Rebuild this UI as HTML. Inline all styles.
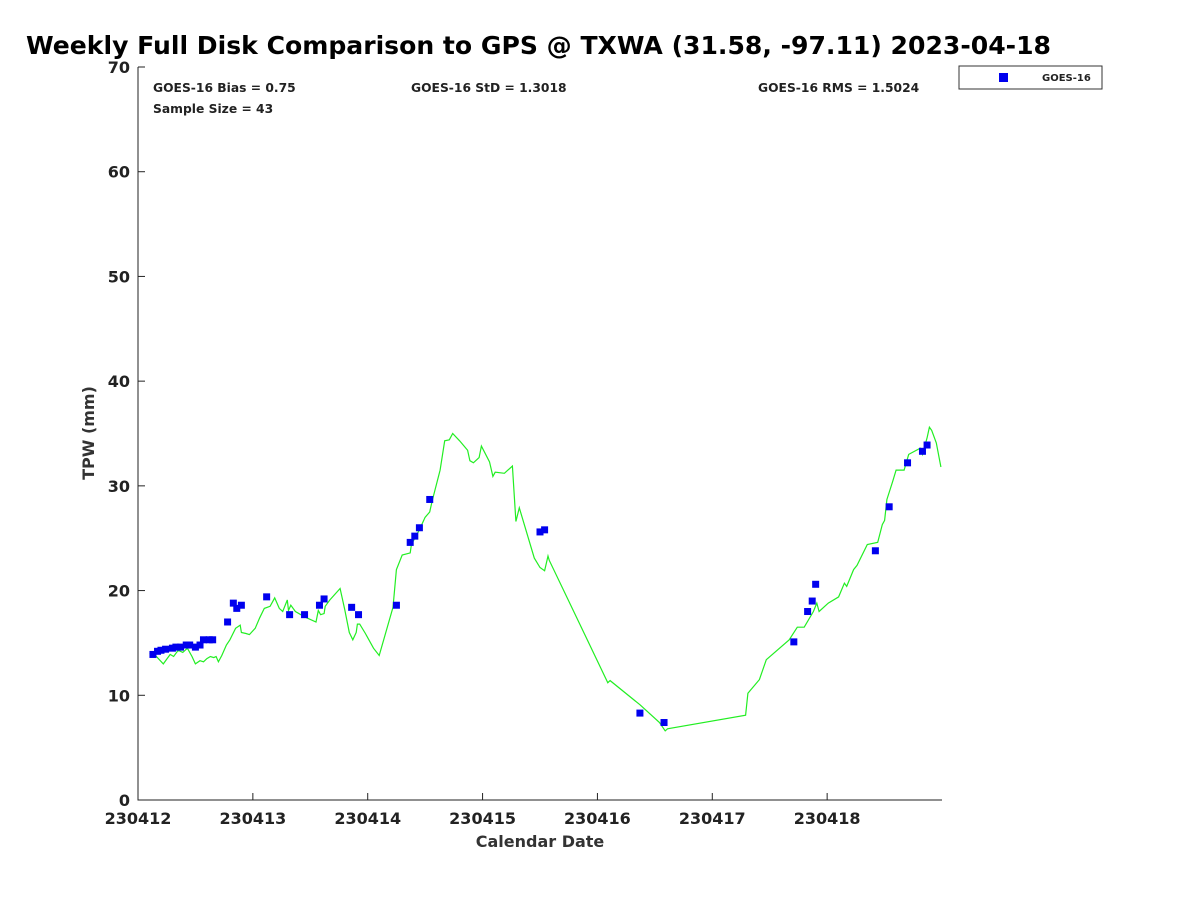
<!DOCTYPE html>
<html><head><meta charset="utf-8"><style>
html,body{margin:0;padding:0;background:#fff;}
svg{display:block;font-family:"DejaVu Sans","Liberation Sans",sans-serif;font-weight:bold;}
</style></head><body>
<svg id="chart" width="1200" height="900" xmlns="http://www.w3.org/2000/svg">
<text x="26" y="54" font-size="25" textLength="1025" lengthAdjust="spacingAndGlyphs" fill="#000">Weekly Full Disk Comparison to GPS @ TXWA (31.58, -97.11) 2023-04-18</text>
<g id="axes"></g>
<text x="153" y="92" font-size="12.3" fill="#222">GOES-16 Bias = 0.75</text>
<text x="153" y="113" font-size="12.3" fill="#222">Sample Size = 43</text>
<text x="411" y="92" font-size="12.3" fill="#222">GOES-16 StD = 1.3018</text>
<text x="758" y="92" font-size="12.3" fill="#222">GOES-16 RMS = 1.5024</text>
<g>
<rect x="959" y="66" width="143" height="23" fill="#fff" stroke="#333" stroke-width="1"/>
<rect x="999" y="73" width="9" height="9" fill="#0000ee"/>
<text x="1042" y="81" font-size="10" fill="#222">GOES-16</text>
</g>
<text x="540" y="847" font-size="16" fill="#333" text-anchor="middle">Calendar Date</text>
<text transform="translate(94,433) rotate(-90)" font-size="16" fill="#333" text-anchor="middle">TPW (mm)</text>
</svg>
<script>
const xTickLabels=["230412","230413","230414","230415","230416","230417","230418"];
const yTickLabels=[0,10,20,30,40,50,60,70];
const lineDays=[.10,.16,.22,.28,.31,.35,.39,.43,.47,.50,.54,.57,.60,.63,.66,.68,.70,.73,.77,.80,.85,.89,.90,.94,.97,1.02,1.06,1.10,1.15,1.19,1.23,1.26,1.30,1.31,1.33,1.37,1.45,1.55,1.57,1.59,1.62,1.63,1.67,1.76,1.80,1.84,1.87,1.90,1.91,1.93,1.98,2.05,2.10,2.22,2.25,2.30,2.37,2.38,2.45,2.50,2.54,2.56,2.63,2.67,2.71,2.74,2.80,2.87,2.89,2.92,2.97,2.99,3.06,3.09,3.11,3.19,3.26,3.29,3.32,3.45,3.50,3.54,3.57,3.58,4.09,4.11,4.37,4.54,4.59,4.61,5.29,5.31,5.41,5.47,5.67,5.74,5.80,5.88,5.91,5.93,6.01,6.10,6.15,6.17,6.23,6.26,6.35,6.44,6.48,6.50,6.52,6.57,6.60,6.67,6.71,6.81,6.83,6.87,6.89,6.91,6.95,6.99];
const lineTPW=[14.0,13.7,13.0,13.9,13.7,14.3,14.1,14.5,13.7,13.0,13.3,13.2,13.5,13.7,13.6,13.7,13.2,13.8,14.8,15.3,16.4,16.7,16.0,15.9,15.8,16.4,17.4,18.3,18.5,19.3,18.3,18.0,19.1,18.1,18.6,18.0,17.5,17.0,18.1,17.7,17.8,18.5,19.1,20.2,18.2,16.0,15.3,16.0,16.8,16.8,15.9,14.5,13.8,18.4,22.0,23.4,23.6,24.4,25.8,27.0,27.5,28.5,31.5,34.3,34.4,35.0,34.3,33.4,32.4,32.2,32.7,33.8,32.3,30.9,31.3,31.2,31.9,26.6,27.9,23.1,22.2,21.9,23.3,22.9,11.2,11.4,9.1,7.4,6.6,6.8,8.1,10.2,11.5,13.4,15.3,16.5,16.5,18.0,18.8,18.0,18.8,19.4,20.7,20.4,22.0,22.4,24.4,24.6,26.3,26.7,28.7,30.4,31.5,31.5,33.0,33.6,33.0,34.6,35.6,35.3,34.1,31.8];
const goesDays=[.13,.17,.20,.24,.30,.33,.37,.42,.45,.50,.54,.57,.62,.65,.78,.83,.86,.90,1.12,1.32,1.45,1.58,1.62,1.86,1.92,2.25,2.37,2.41,2.45,2.54,3.50,3.54,4.37,4.58,5.71,5.83,5.87,5.90,6.42,6.54,6.70,6.83,6.87];
const goesTPW=[13.9,14.2,14.3,14.4,14.5,14.6,14.6,14.8,14.8,14.6,14.8,15.3,15.3,15.3,17.0,18.8,18.3,18.6,19.4,17.7,17.7,18.6,19.2,18.4,17.7,18.6,24.6,25.2,26.0,28.7,25.6,25.8,8.3,7.4,15.1,18.0,19.0,20.6,23.8,28.0,32.2,33.3,33.9];

const NS="http://www.w3.org/2000/svg";
const svg=document.getElementById('chart');
const axes=document.getElementById('axes');
const L=138,R=942,T=67,B=800;
const xS=d=>L+d*(R-L)/7;
const yS=v=>B-v*(B-T)/70;
function mk(tag,attrs,parent){const e=document.createElementNS(NS,tag);for(const k in attrs)e.setAttribute(k,attrs[k]);(parent||svg).appendChild(e);return e;}

const ax=mk('path',{d:`M${L},${T}V${B}H${R}`,fill:'none',stroke:'#222','stroke-width':1},axes);


yTickLabels.forEach(v=>{
  const y=yS(v);
  const t=mk('line',{x1:L,x2:L+7,y1:y,y2:y,stroke:'#222'},axes);
  
  
  const tx=mk('text',{x:L-8,y:y+6,'font-size':16,'text-anchor':'end',fill:'#222'},axes);
  tx.textContent=v;
  
  
});
xTickLabels.forEach((s,i)=>{
  const x=xS(i);
  const t=mk('line',{x1:x,x2:x,y1:B,y2:B-7,stroke:'#222'},axes);
  
  
  const tx=mk('text',{x:x,y:B+24,'font-size':16,'text-anchor':'middle',fill:'#222'},axes);
  tx.textContent=s;
  
  
});
const pts=lineDays.map((d,i)=>xS(d).toFixed(1)+','+yS(lineTPW[i]).toFixed(1)).join(' ');
const pl=mk('polyline',{points:pts,fill:'none',stroke:'#22ee22','stroke-width':1.2});


goesDays.forEach((d,i)=>{
  const r=mk('rect',{x:xS(d)-3.5,y:yS(goesTPW[i])-3.5,width:7,height:7,fill:'#0000ee'});
  
  
});
</script>
</body></html>
